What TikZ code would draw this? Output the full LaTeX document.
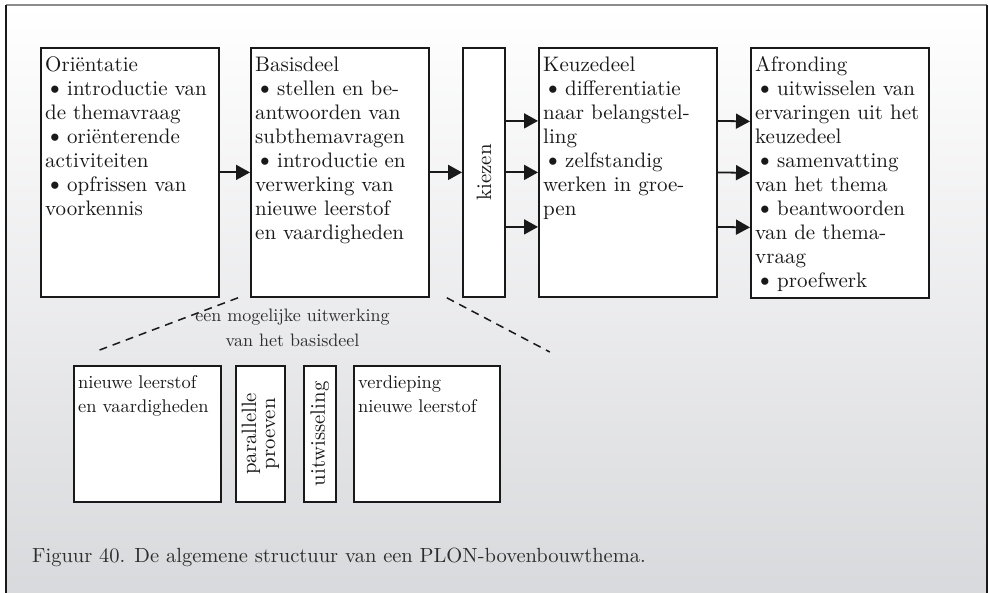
\documentclass[tikz,border=0pt]{standalone}
\usepackage{fontspec}
\setmainfont{lmroman10-regular.otf}
\usepackage{graphicx}
\usetikzlibrary{arrows.meta}
\definecolor{bgbot}{RGB}{216,217,220}
\definecolor{ink}{RGB}{25,25,25}
\definecolor{capink}{RGB}{45,45,45}
\newcommand{\bul}{\makebox[22pt][l]{\scalebox{1.2}{\textbullet}}}
\begin{document}
\begin{tikzpicture}[x=1pt,y=-1pt,
  box/.style={draw=ink, line width=1.8pt, fill=white, inner sep=0pt, anchor=north west},
  txt/.style={anchor=north west, inner sep=0pt, align=left, font=\fontsize{21}{24}\selectfont, text=ink},
  stxt/.style={anchor=north west, inner sep=0pt, align=left, font=\fontsize{18.4}{24}\selectfont, text=ink},
  rtxt/.style={rotate=90, inner sep=0pt, align=center, font=\fontsize{20.8}{19}\selectfont, text=ink},
  arr/.style={draw=ink, line width=1.8pt, -{Triangle[length=14pt,width=15pt]}},
  dsh/.style={draw=ink, line width=1.5pt, dash pattern=on 8pt off 6pt},
  lbl/.style={inner sep=0pt, align=center, font=\fontsize{18}{25}\selectfont, text=capink}]
\useasboundingbox (0,0) rectangle (989,593);
\shade[top color=white, bottom color=bgbot] (6,5) rectangle (987,600);
\draw[line width=1.6pt, draw=black!45] (6,5) -- (987,5);
\draw[line width=1.8pt, draw=ink] (6,600) -- (6,5);
\draw[line width=1.8pt, draw=ink] (987,5) -- (987,600);

% top row boxes
\node[box, minimum width=178, minimum height=249] (ori) at (40,47) {};
\node[box, minimum width=178, minimum height=249] (bas) at (250,47) {};
\node[box, minimum width=42, minimum height=249] (kie) at (462,47) {};
\node[box, minimum width=178, minimum height=249] (keu) at (538,47) {};
\node[box, minimum width=178, minimum height=250] (afr) at (750,47) {};

\node[txt] (oritxt) at ([shift={(5,7.2)}]ori.north west) {\strut Oriëntatie\\
\bul introductie van\\de themavraag\\
\bul oriënterende\\activiteiten\\
\bul opfrissen van\\voorkennis};
\node[txt] (bastxt) at ([shift={(5,7.2)}]bas.north west) {\strut Basisdeel\\
\bul stellen en be-\\antwoorden van\\subthemavragen\\
\bul introductie en\\verwerking van\\nieuwe leerstof\\en vaardigheden};
\node[rtxt] (kietxt) at (kie.center) {kiezen};
\node[txt] (keutxt) at ([shift={(5,7.2)}]keu.north west) {\strut Keuzedeel\\
\bul differentiatie\\naar belangstel-\\ling\\
\bul zelfstandig\\werken in groe-\\pen};
\node[txt] (afrtxt) at ([shift={(5,7.2)}]afr.north west) {\strut Afronding\\
\bul uitwisselen van\\ervaringen uit het\\keuzedeel\\
\bul samenvatting\\van het thema\\
\bul beantwoorden\\van de thema-\\vraag\\
\bul proefwerk};

% arrows
\draw[arr] (ori.east) -- (bas.west);
\draw[arr] (bas.east) -- (kie.west);
\draw[arr] ([yshift=51.5pt]kie.east) -- ([yshift=51.5pt]keu.west);
\draw[arr] (kie.east) -- (keu.west);
\draw[arr] ([yshift=-54.5pt]kie.east) -- ([yshift=-54.5pt]keu.west);
\draw[arr] ([yshift=51.5pt]keu.east) -- ([yshift=51.5pt]afr.west);
\draw[arr] (keu.east) -- (afr.west);
\draw[arr] ([yshift=-54.5pt]keu.east) -- ([yshift=-54.5pt]afr.west);

% bottom boxes
\node[box, minimum width=147, minimum height=136] (nls) at (73,365) {};
\node[box, minimum width=49, minimum height=136] (par) at (235,365) {};
\node[box, minimum width=32, minimum height=136] (uit) at (303,365) {};
\node[box, minimum width=146, minimum height=136] (ver) at (353,365) {};

\node[stxt] (nlstxt) at ([shift={(5,6.2)}]nls.north west) {\strut nieuwe leerstof\\en vaardigheden};
\node[rtxt] (partxt) at (par.center) {parallelle\\proeven};
\node[rtxt] (uittxt) at (uit.center) {uitwisseling};
\node[stxt] (vertxt) at ([shift={(5,6.2)}]ver.north west) {\strut verdieping\\nieuwe leerstof};

% dashed connectors and label
\coordinate (dl1) at ([xshift=-12pt]bas.south west);
\coordinate (dl2) at ([shift={(24,-14)}]nls.north west);
\coordinate (dr1) at ([xshift=17pt]bas.south east);
\coordinate (dr2) at ([shift={(49,-13)}]ver.north east);
\draw[dsh] (dl1) -- (dl2);
\draw[dsh] (dr1) -- (dr2);
\node[lbl] (lab) at (292.5,327.5) {een mogelijke uitwerking\\van het basisdeel};

% caption
\node[anchor=base west, inner sep=0pt, font=\fontsize{20.5}{24}\selectfont, text=capink] (cap) at (32,563) {Figuur 40. De algemene structuur van een PLON-bovenbouwthema.};
\end{tikzpicture}
\end{document}
